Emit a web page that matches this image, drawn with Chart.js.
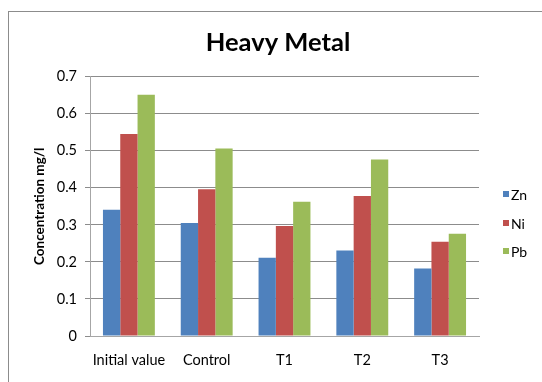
<!DOCTYPE html>
<html>
<head>
<meta charset="utf-8">
<script src="https://cdn.jsdelivr.net/npm/chart.js@4.4.1/dist/chart.umd.min.js"></script>
<style>
  html, body { margin: 0; padding: 0; background: #ffffff; }
  #wrap { width: 542px; height: 382px; position: relative; }
</style>
</head>
<body>
<div id="wrap"><canvas id="chart" width="542" height="382"></canvas></div>
<script>
// Heavy metal concentrations (mg/l) per treatment
const categories = ['Initial value', 'Control', 'T1', 'T2', 'T3'];
const seriesNames = ['Zn', 'Ni', 'Pb'];
const znValues = [0.341, 0.305, 0.211, 0.231, 0.182];
const niValues = [0.545, 0.396, 0.297, 0.378, 0.254];
const pbValues = [0.651, 0.506, 0.362, 0.476, 0.276];
const yTicks = [0, 0.1, 0.2, 0.3, 0.4, 0.5, 0.6, 0.7];

const colors = ['#4F81BD', '#C0504D', '#9BBB59'];
const FONT = 'Lato, "Open Sans", sans-serif';

// Outer chart frame
const framePlugin = {
  id: 'frame',
  beforeDraw(chart) {
    const ctx = chart.ctx;
    ctx.save();
    ctx.fillStyle = '#ffffff';
    ctx.fillRect(0, 0, chart.width, chart.height);
    ctx.strokeStyle = '#8c8c8c';
    ctx.lineWidth = 1;
    ctx.strokeRect(8.5, 11.5, chart.width + 20, chart.height + 20);
    ctx.restore();
  }
};

// Vertical legend in the space right of the plot area
const sideLegend = {
  id: 'sideLegend',
  afterDraw(chart) {
    const ctx = chart.ctx;
    const area = chart.chartArea;
    const sets = chart.data.datasets;
    const step = 28.5;
    const midY = (area.top + area.bottom) / 2 + 16.5;
    const firstY = midY - step * (sets.length - 1) / 2;
    const boxX = area.right + 24;
    ctx.save();
    ctx.font = '14px ' + FONT;
    ctx.textBaseline = 'middle';
    ctx.textAlign = 'left';
    sets.forEach((ds, i) => {
      const y = Math.round(firstY + i * step);
      ctx.fillStyle = ds.backgroundColor;
      ctx.fillRect(boxX, y - 3, 6, 6);
      ctx.fillStyle = '#000000';
      ctx.fillText(ds.label, boxX + 8, y + 1);
    });
    ctx.restore();
  }
};

new Chart(document.getElementById('chart'), {
  type: 'bar',
  data: {
    labels: categories,
    datasets: [znValues, niValues, pbValues].map((vals, i) => ({
      label: seriesNames[i],
      data: vals,
      backgroundColor: colors[i],
      borderWidth: 0,
      categoryPercentage: 0.667,
      barPercentage: 1.0
    }))
  },
  options: {
    responsive: false,
    animation: false,
    layout: { padding: { left: 14, right: 0, top: 0, bottom: 0 } },
    plugins: {
      title: {
        display: true,
        text: 'Heavy Metal',
        color: '#000000',
        font: { family: FONT, size: 25.5, weight: 'bold' },
        padding: { top: 27, bottom: 19 }
      },
      legend: { display: false },
      tooltip: { enabled: false }
    },
    scales: {
      x: {
        grid: { display: false, drawTicks: false },
        border: { display: true, color: '#a6a6a6', width: 1 },
        ticks: {
          color: '#000000',
          padding: 16,
          font: { family: FONT, size: 14.5 },
          maxRotation: 0
        },
        afterFit(scale) { scale.height = 46; }
      },
      y: {
        min: 0,
        max: 0.7,
        afterBuildTicks(scale) { scale.ticks = yTicks.map(v => ({ value: v })); },
        grid: { color: '#8c8c8c', tickLength: 5, drawTicks: true, tickColor: '#8c8c8c' },
        border: { display: true, color: '#a6a6a6', width: 1 },
        ticks: {
          color: '#000000',
          padding: 8,
          font: { family: FONT, size: 14.5 },
          callback: v => String(Math.round(v * 10) / 10)
        },
        title: {
          display: true,
          text: 'Concentration mg/l',
          color: '#000000',
          font: { family: FONT, size: 13.5, weight: 'bold' },
          padding: { top: 18, bottom: 0 }
        },
        afterFit(scale) { scale.width = 76; }
      },
      // empty right-hand axis that reserves room for the legend
      legendSpace: {
        position: 'right',
        display: true,
        grid: { display: false, drawTicks: false },
        border: { display: false },
        ticks: { display: false },
        afterFit(scale) { scale.width = 63; }
      }
    }
  },
  plugins: [framePlugin, sideLegend]
});
</script>
</body>
</html>
